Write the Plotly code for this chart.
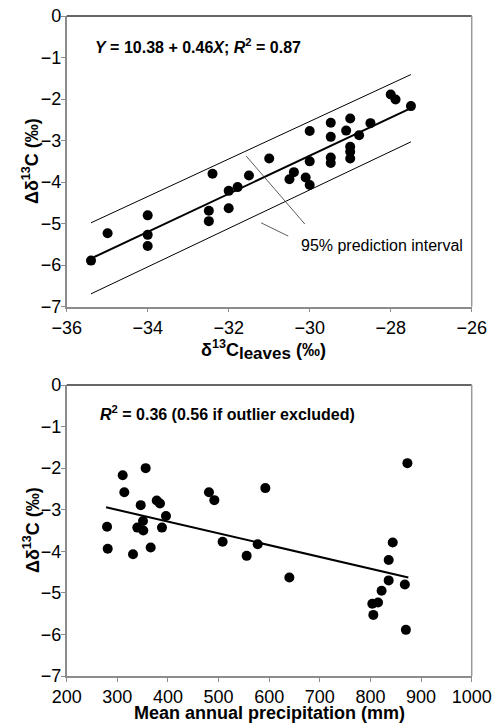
import plotly.graph_objects as go

# ---------------- data: top panel ----------------
top_x = [-35.40, -34.99, -34.0, -34.0, -34.0, -32.40, -32.49, -32.49, -32.0, -31.78,
         -32.0, -31.50, -31.0, -30.50, -30.39, -30.10, -30.0, -30.0, -30.0, -29.48,
         -29.48, -29.48, -29.48, -29.10, -29.0, -29.0, -29.0, -29.0, -28.78, -28.50,
         -28.0, -27.88, -27.50]
top_y = [-5.89, -5.23, -4.80, -5.27, -5.54, -3.80, -4.69, -4.94, -4.21, -4.12,
         -4.63, -3.84, -3.43, -3.93, -3.76, -3.89, -4.07, -3.50, -2.77, -2.57,
         -2.91, -3.41, -3.54, -2.76, -2.47, -3.15, -3.27, -3.43, -2.87, -2.58,
         -1.89, -2.01, -2.17]
fit_top_x = [-35.40, -27.50]
fit_top_y = [-5.84, -2.22]
pi_upper_y = [-4.98, -1.41]
pi_lower_y = [-6.69, -3.03]
leader1_x = [-31.57, -30.12]
leader1_y = [-3.37, -5.01]
leader2_x = [-31.20, -30.53]
leader2_y = [-4.98, -5.30]

# ---------------- data: bottom panel ----------------
bot_x = [279.7, 281, 310.6, 313.8, 331, 346.2, 339.5, 350.7, 351.3, 356,
         365.9, 377.8, 384.3, 396.1, 388.2, 481, 491.6, 508, 555.5, 577.3,
         592.4, 639.8, 803.7, 805.7, 815, 822, 836, 836, 844, 868,
         870, 873]
bot_y = [-3.41, -3.94, -2.17, -2.58, -4.07, -2.89, -3.43, -3.27, -3.50, -2.00,
         -3.91, -2.78, -2.85, -3.15, -3.43, -2.58, -2.77, -3.77, -4.11, -3.83,
         -2.48, -4.63, -5.26, -5.53, -5.23, -4.95, -4.70, -4.21, -3.79, -4.80,
         -5.89, -1.88]
fit_bot_x = [277.7, 874.8]
fit_bot_y = [-2.94, -4.63]

top_xticks = [-36, -34, -32, -30, -28, -26]
bot_xticks = [200, 300, 400, 500, 600, 700, 800, 900, 1000]
yticks = [0, -1, -2, -3, -4, -5, -6, -7]

# ---------------- geometry (pixels) ----------------
W, H = 492, 726
FONT = "Liberation Sans, Arial, sans-serif"
def px(xp):
    return xp / W
def py(yp):
    return 1 - yp / H

x_dom = [px(66.7), px(471.7)]
y_dom_top = [py(306.7), py(16)]
y_dom_bot = [py(676), py(385)]

fig = go.Figure()
mk = dict(size=10, color="black", line=dict(width=0))

fig.add_trace(go.Scatter(x=top_x, y=top_y, mode="markers", marker=mk, xaxis="x", yaxis="y"))
fig.add_trace(go.Scatter(x=fit_top_x, y=fit_top_y, mode="lines", line=dict(color="black", width=2), xaxis="x", yaxis="y"))
fig.add_trace(go.Scatter(x=fit_top_x, y=pi_upper_y, mode="lines", line=dict(color="black", width=1), xaxis="x", yaxis="y"))
fig.add_trace(go.Scatter(x=fit_top_x, y=pi_lower_y, mode="lines", line=dict(color="black", width=1), xaxis="x", yaxis="y"))
fig.add_trace(go.Scatter(x=leader1_x, y=leader1_y, mode="lines", line=dict(color="#333", width=0.8), xaxis="x", yaxis="y"))
fig.add_trace(go.Scatter(x=leader2_x, y=leader2_y, mode="lines", line=dict(color="#333", width=0.8), xaxis="x", yaxis="y"))

fig.add_trace(go.Scatter(x=bot_x, y=bot_y, mode="markers", marker=mk, xaxis="x2", yaxis="y2"))
fig.add_trace(go.Scatter(x=fit_bot_x, y=fit_bot_y, mode="lines", line=dict(color="black", width=2), xaxis="x2", yaxis="y2"))

axis_common = dict(showline=True, linecolor="#8c8c8c", linewidth=1.5, ticks="outside",
                   ticklen=4, tickcolor="#8c8c8c", tickwidth=1, showgrid=False, zeroline=False,
                   automargin=False,
                   tickfont=dict(family=FONT, size=18, color="black"), fixedrange=True)

fig.update_layout(
    width=W, height=H, margin=dict(l=0, r=0, t=0, b=0, autoexpand=False),
    paper_bgcolor="white", plot_bgcolor="white", showlegend=False,
    xaxis=dict(domain=x_dom, range=[-36, -26], tickvals=top_xticks, anchor="y", **axis_common),
    yaxis=dict(domain=y_dom_top, range=[-7, 0], tickvals=yticks, anchor="x",
               ticklabelstandoff=-4, **axis_common),
    xaxis2=dict(domain=x_dom, range=[200, 1000], tickvals=bot_xticks, anchor="y2", **axis_common),
    yaxis2=dict(domain=y_dom_bot, range=[-7, 0], tickvals=yticks, anchor="x2",
                ticklabelstandoff=-4, **axis_common),
)

# frame: dark top, grey right
for xr, yr in (("x domain", "y domain"), ("x2 domain", "y2 domain")):
    fig.add_shape(type="line", xref=xr, yref=yr, x0=0, x1=1, y0=1, y1=1, line=dict(color="#333333", width=1.5))
    fig.add_shape(type="line", xref=xr, yref=yr, x0=1, x1=1, y0=0, y1=1, line=dict(color="#9a9a9a", width=1.5))

ann = [
    dict(text="<b><i>Y</i> = 10.38 + 0.46<i>X</i>; <i>R</i><sup>2</sup> = 0.87</b>",
         x=px(93.3), y=py(46), xanchor="left", yanchor="middle", font=dict(size=16)),
    dict(text="95% prediction interval", x=px(299), y=py(245), xanchor="left", yanchor="middle",
         font=dict(size=16)),
    dict(text="<b><i>R</i><sup>2</sup> = 0.36 (0.56 if outlier excluded)</b>",
         x=px(98.3), y=py(413), xanchor="left", yanchor="middle", font=dict(size=16)),
    dict(text="<b>Δδ<sup>13</sup>C (‰)</b>", x=px(31), y=py(161), textangle=-90,
         xanchor="center", yanchor="middle", font=dict(size=18)),
    dict(text="<b>Δδ<sup>13</sup>C (‰)</b>", x=px(31), y=py(530), textangle=-90,
         xanchor="center", yanchor="middle", font=dict(size=18)),
    dict(text="<b>δ<sup>13</sup>C<sub><span style='font-size:17px'>leaves</span></sub> (‰)</b>",
         x=px(263), y=py(350), xanchor="center", yanchor="middle", font=dict(size=18)),
    dict(text="<b>Mean annual precipitation (mm)</b>", x=px(269), y=py(713),
         xanchor="center", yanchor="middle", font=dict(size=18)),
]
for a in ann:
    a.update(xref="paper", yref="paper", showarrow=False)
    a["font"].update(family=FONT, color="black")
    fig.add_annotation(**a)

fig.write_html("out.html", config={"displayModeBar": False},
               post_script="document.body.style.margin='0px';")
